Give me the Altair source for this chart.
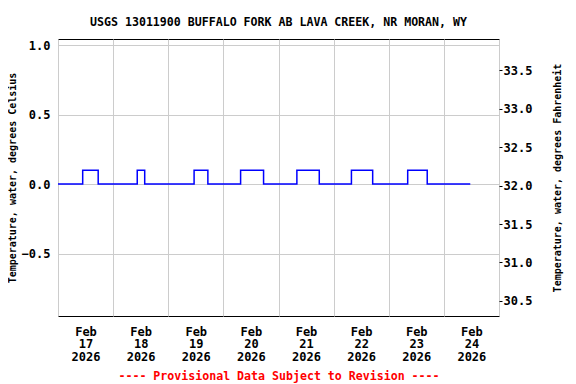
import altair as alt
import pandas as pd

# ---- data ----
times = [
    "2026-02-17T00:00:00Z", "2026-02-17T10:45:00Z", "2026-02-17T17:30:00Z",
    "2026-02-18T10:30:00Z", "2026-02-18T13:45:00Z",
    "2026-02-19T11:15:00Z", "2026-02-19T17:15:00Z",
    "2026-02-20T07:30:00Z", "2026-02-20T17:30:00Z",
    "2026-02-21T08:00:00Z", "2026-02-21T17:45:00Z",
    "2026-02-22T07:45:00Z", "2026-02-22T17:00:00Z",
    "2026-02-23T08:15:00Z", "2026-02-23T16:45:00Z",
    "2026-02-24T11:30:00Z",
]
temp_c = [0.0, 0.1, 0.0, 0.1, 0.0, 0.1, 0.0, 0.1, 0.0, 0.1, 0.0, 0.1, 0.0, 0.1, 0.0, 0.0]
day_ticks = ["2026-02-%02dT00:00:00Z" % d for d in range(17, 26)]
c_ticks = [-0.5, 0.0, 0.5, 1.0]
f_ticks = [30.5, 31.0, 31.5, 32.0, 32.5, 33.0, 33.5]

title = "USGS 13011900 BUFFALO FORK AB LAVA CREEK, NR MORAN, WY"
footer = "---- Provisional Data Subject to Revision ----"
c_title = "Temperature, water, degrees Celsius"
f_title = "Temperature, water, degrees Fahrenheit"

df = pd.DataFrame({"t": times, "c": temp_c})
df["f"] = df["c"] * 1.8 + 32

tick_ms = [int(pd.Timestamp(s).value // 10**6) for s in day_ticks]
FONT = "DejaVu Sans Mono"
x_dom = [tick_ms[0], tick_ms[-1]]

x_enc = alt.X(
    "t:T",
    scale=alt.Scale(type="utc", domain=x_dom),
    axis=alt.Axis(
        values=tick_ms,
        labelExpr="utcdate(datum.value) == 25 ? '' : [utcFormat(datum.value, '%b'), utcFormat(datum.value, '%d'), utcFormat(datum.value, '%Y')]",
        labelOffset=27.5,
        labelFlush=False,
        labelOverlap=False,
        labelBaseline="top",
        labelLineHeight=12.7,
        labelPadding=10,
        tickSize=0,
        domain=False,
        grid=True,
        gridColor="#cccccc",
        title=footer,
        titleColor="#ff0000",
        titleFontSize=11.6,
        titlePadding=8,
    ),
)

base = alt.Chart(df)

line = base.mark_line(interpolate="step-after", color="#0000ff", strokeWidth=1.5, clip=True).encode(
    x=x_enc,
    y=alt.Y(
        "c:Q",
        scale=alt.Scale(domain=[-0.950, 1.045], nice=False, zero=False),
        axis=alt.Axis(
            values=c_ticks,
            format=".1f",
            tickSize=0,
            labelPadding=8,
            domain=False,
            grid=True,
            gridColor="#cccccc",
            title=c_title,
            titleFontSize=10,
            titlePadding=4,
        ),
    ),
)

right = base.mark_line(opacity=0).encode(
    x=alt.X("t:T", scale=alt.Scale(type="utc", domain=x_dom)),
    y=alt.Y(
        "f:Q",
        scale=alt.Scale(domain=[30.304, 33.905], nice=False, zero=False),
        axis=alt.Axis(
            orient="right",
            values=f_ticks,
            format=".1f",
            tickSize=3,
            tickColor="#000000",
            labelPadding=1,
            domain=False,
            grid=False,
            title=f_title,
            titleFontSize=10,
            titleAngle=270,
            titleBaseline="top",
            titlePadding=21,
        ),
    ),
)

chart = (
    alt.layer(line, right)
    .resolve_scale(y="independent")
    .properties(
        width=441,
        height=277,
        background="#ffffff",
        autosize=alt.AutoSizeParams(type="none"),
        padding={"left": 50, "top": 31, "right": 69, "bottom": 68},
        title=alt.TitleParams(
            text=title,
            fontSize=11.6,
            font=FONT,
            fontWeight="bold",
            anchor="middle",
            frame="group",
            baseline="alphabetic",
            offset=1,
            color="#000000",
        ),
    )
    .configure_view(stroke="#000000", strokeWidth=1)
    .configure_title(font=FONT, fontWeight="bold")
    .configure_axis(
        labelFont=FONT,
        labelFontSize=12,
        labelFontWeight="bold",
        labelColor="#000000",
        titleFont=FONT,
        titleFontWeight="bold",
    )
)

chart.save("out.html", embed_options={"renderer": "svg", "actions": False})
